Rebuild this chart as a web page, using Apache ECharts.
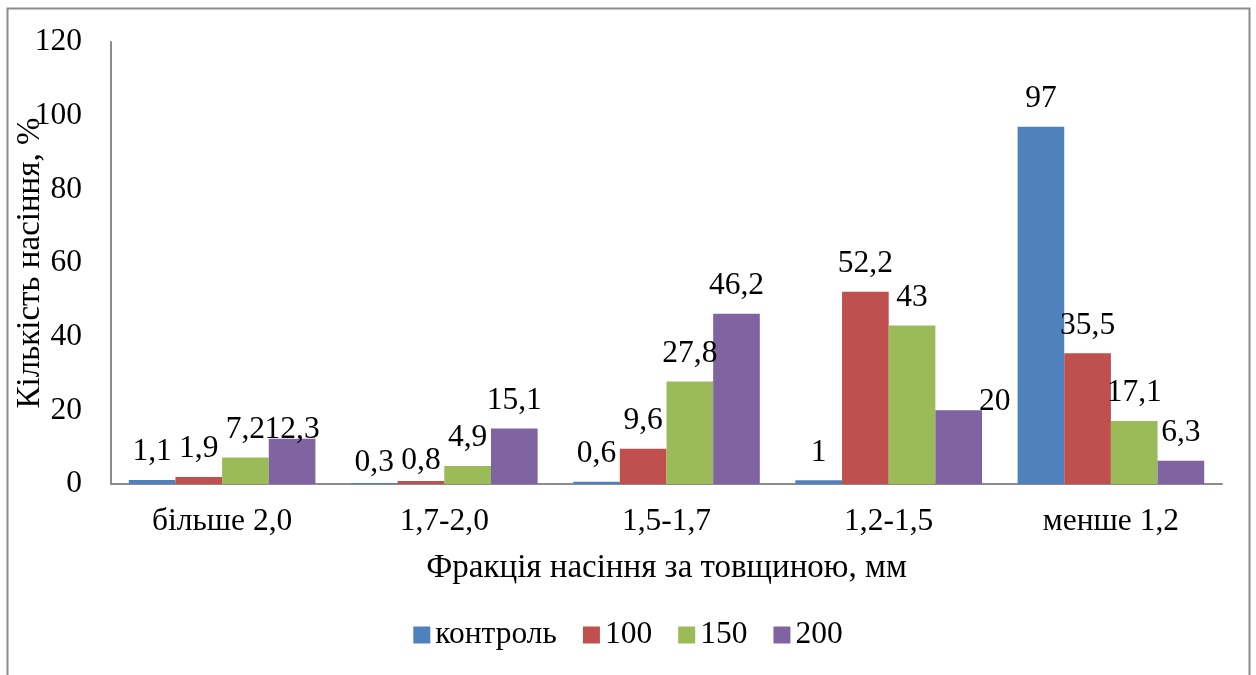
<!DOCTYPE html>
<html>
<head>
<meta charset="utf-8">
<script src="https://cdn.jsdelivr.net/npm/echarts@6/dist/echarts.min.js"></script>
<style>
  html, body { margin: 0; padding: 0; background: #fff; }
  #chart { width: 1256px; height: 675px; }
</style>
</head>
<body>
<div id="chart"></div>
<script>
// дані з рисунка
const categories = ['більше 2,0', '1,7-2,0', '1,5-1,7', '1,2-1,5', 'менше 1,2'];
const seriesNames = ['контроль', '100', '150', '200'];
const control = [1.1, 0.3, 0.6, 1, 97];
const dose100 = [1.9, 0.8, 9.6, 52.2, 35.5];
const dose150 = [7.2, 4.9, 27.8, 43, 17.1];
const dose200 = [12.3, 15.1, 46.2, 20, 6.3];
const yTicks = [0, 20, 40, 60, 80, 100, 120];

const colors = ['#4F81BD', '#C0504D', '#9BBB59', '#8064A2'];
const font = '"Liberation Serif", "Times New Roman", serif';
const fs = 31.5;     // підписи, легенда, осі
const fsName = 33;   // назви осей

// зсуви підписів, як їх посунули вручну в Excel
const labelShift = {
  '0-1': [0, 8],
  '1-1': [0, 8],
  '3-0': [0, 19],
  '3-3': [36, 19]
};

const allData = [control, dose100, dose150, dose200];

const chart = echarts.init(document.getElementById('chart'));

const series = allData.map(function (vals, si) {
  return {
    name: seriesNames[si],
    type: 'bar',
    barGap: '0%',
    barCategoryGap: '16%',
    itemStyle: { color: colors[si] },
    label: {
      show: true,
      position: 'top',
      distance: 12,
      color: '#000',
      fontFamily: font,
      fontSize: fs,
      formatter: function (p) { return String(p.value).replace('.', ','); }
    },
    data: vals.map(function (v, ci) {
      const sh = labelShift[si + '-' + ci];
      if (!sh) return v;
      return { value: v, label: { offset: sh } };
    })
  };
});

chart.setOption({
  animation: false,
  backgroundColor: '#fff',
  textStyle: { fontFamily: font },
  graphic: [{
    type: 'rect',
    shape: { x: 7.5, y: 8.5, width: 1242, height: 720 },
    style: { fill: 'none', stroke: '#8c8c8c', lineWidth: 2 },
    silent: true
  }],
  grid: { left: 111, right: 34, top: 42, bottom: 191, outerBoundsMode: 'none' },
  legend: {
    bottom: 19,
    left: 'center',
    itemWidth: 17,
    itemHeight: 17,
    itemGap: 26,
    icon: 'rect',
    textStyle: { fontFamily: font, fontSize: fs, color: '#000' },
    data: seriesNames
  },
  xAxis: {
    type: 'category',
    data: categories,
    name: 'Фракція насіння за товщиною, мм',
    nameLocation: 'middle',
    nameGap: 68,
    nameMoveOverlap: false,
    nameTextStyle: { fontFamily: font, fontSize: fsName, color: '#000' },
    axisLine: { lineStyle: { color: '#8c8c8c', width: 2 } },
    axisTick: { show: false },
    axisLabel: { margin: 22, fontFamily: font, fontSize: fs, color: '#000' }
  },
  yAxis: {
    type: 'value',
    min: yTicks[0],
    max: yTicks[yTicks.length - 1],
    interval: 20,
    name: 'Кількість насіння, %',
    nameLocation: 'middle',
    nameGap: 64,
    nameMoveOverlap: false,
    nameTextStyle: { fontFamily: font, fontSize: fsName, color: '#000' },
    axisLine: { show: true, lineStyle: { color: '#8c8c8c', width: 2 } },
    axisTick: { show: false },
    splitLine: { show: false },
    axisLabel: { margin: 29, fontFamily: font, fontSize: fs, color: '#000' }
  },
  series: series
});
</script>
</body>
</html>
